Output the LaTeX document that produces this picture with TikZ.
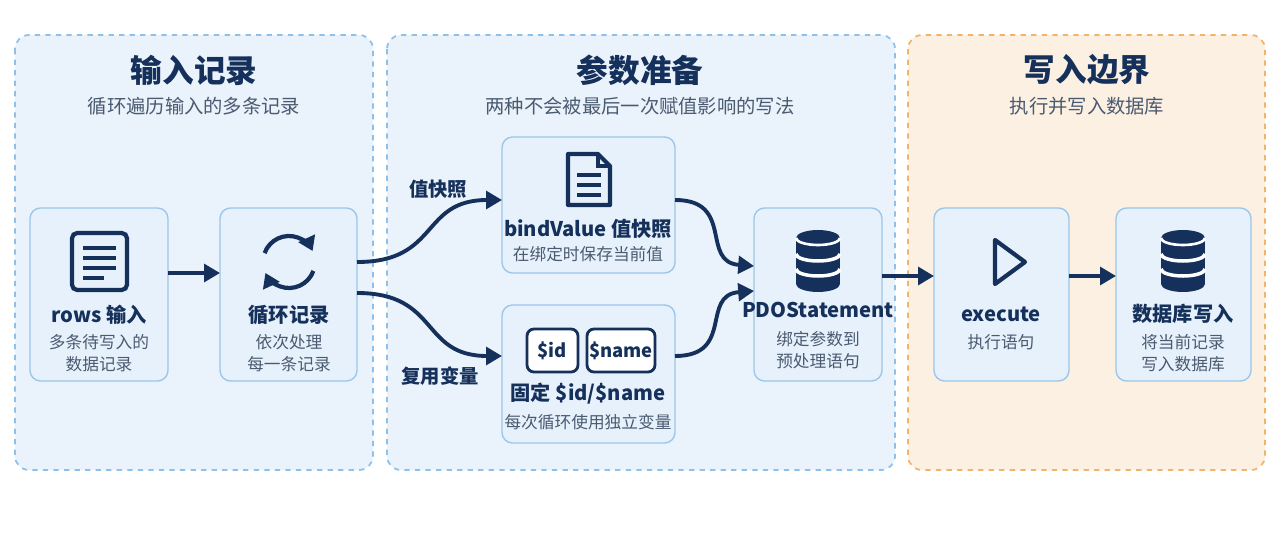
\documentclass[tikz,border=0pt]{standalone}
\usepackage{fontspec}
\setmainfont{Noto Sans CJK SC}
\usetikzlibrary{arrows.meta}
\definecolor{navy}{HTML}{15305A}
\definecolor{pfill}{HTML}{EAF3FC}
\definecolor{pline}{HTML}{8EC0EA}
\definecolor{ofill}{HTML}{FCF0E2}
\definecolor{oline}{HTML}{F2B46A}
\definecolor{bfill}{HTML}{E6F1FB}
\definecolor{bline}{HTML}{9CC6EA}
\definecolor{sub}{HTML}{4A5A70}
\begin{document}
\begin{tikzpicture}[x=0.02cm,y=-0.02cm,
 panel/.style={draw=pline,fill=pfill,dashed,line width=1pt,rounded corners=8pt},
 opanel/.style={draw=oline,fill=ofill,dashed,line width=1pt,rounded corners=8pt},
 box/.style={draw=bline,fill=bfill,line width=0.8pt,rounded corners=6pt},
 title/.style={font=\bfseries\fontsize{18}{22}\selectfont,text=navy},
 subt/.style={font=\fontsize{11}{14}\selectfont,text=sub},
 lbl/.style={font=\bfseries\fontsize{11.5}{14}\selectfont,text=navy},
 sm/.style={font=\fontsize{9.5}{12.5}\selectfont,text=sub,align=center},
 arr/.style={draw=navy,line width=2.2pt,-{Triangle[length=9pt,width=10pt]}},
 ico/.style={draw=navy,line width=2.4pt}]
\useasboundingbox (0,0) rectangle (1280,533);
\fill[white] (0,0) rectangle (1280,533);
\draw[panel] (15,35) rectangle (373,470);
\draw[panel] (387,35) rectangle (895,470);
\draw[opanel] (908,35) rectangle (1265,470);
\node[title] (t1) at (194,70) {输入记录};
\node[subt] (s1) at (194,106) {循环遍历输入的多条记录};
\node[title] (t2) at (640,70) {参数准备};
\node[subt] (s2) at (640,106) {两种不会被最后一次赋值影响的写法};
\node[title] (t3) at (1087,70) {写入边界};
\node[subt] (s3) at (1087,106) {执行并写入数据库};
% boxes
\draw[box] (30,208) rectangle (168,381);
\draw[box] (220,208) rectangle (357,381);
\draw[box] (502,137) rectangle (675,273);
\draw[box] (502,305) rectangle (675,443);
\draw[box] (754,208) rectangle (882,381);
\draw[box] (934,208) rectangle (1069,381);
\draw[box] (1116,208) rectangle (1251,381);
\coordinate (rowsR) at (168,273); \coordinate (loopL) at (220,273);
\coordinate (loopR1) at (357,262); \coordinate (loopR2) at (357,293);
\coordinate (bvL) at (502,200); \coordinate (bvR) at (675,200);
\coordinate (fxL) at (502,356); \coordinate (fxR) at (675,356);
\coordinate (pdoL1) at (754,266); \coordinate (pdoL2) at (754,291);
\coordinate (pdoR) at (882,276); \coordinate (exL) at (934,276);
\coordinate (exR) at (1069,276); \coordinate (dbL) at (1116,276);
% icons
\draw[ico,rounded corners=3pt] (72,233) rectangle (127,290);
\foreach \y in {248,258,268} \draw[ico] (83,\y)--(116,\y);
\draw[ico] (83,278)--(104,278);
\draw[ico,-{Triangle[length=8pt,width=10pt]}] (289-24.4,262-8.9) arc (-160:-25:26);
\draw[ico,-{Triangle[length=8pt,width=10pt]}] (289+24.4,262+8.9) arc (20:155:26);
\draw[ico,line join=round] (568,154)--(598,154)--(610,166)--(610,205)--(568,205)--cycle;
\draw[ico] (598,154)--(598,166)--(610,166);
\foreach \y in {175,185,195} \draw[ico] (577,\y)--(601,\y);
\foreach \cx/\cy in {818/262,1183/262}{
 \fill[navy] (\cx-22,\cy-24) rectangle (\cx+22,\cy+22);
 \fill[navy] (\cx,\cy-24) ellipse (22 and 8);
 \fill[navy] (\cx,\cy+22) ellipse (22 and 8);
 \draw[white,line width=2pt] (\cx-22,\cy-8) arc (180:0:22 and 7);
 \draw[white,line width=2pt] (\cx-22,\cy+7) arc (180:0:22 and 7);
 \draw[white,line width=1.5pt] (\cx-22,\cy-24) arc (180:0:22 and 7);}
\draw[ico,line join=round] (995,240)--(1025,262)--(995,284)--cycle;
\draw[navy,line width=1.6pt,rounded corners=4pt,fill=white] (527,329) rectangle (578,372);
\draw[navy,line width=1.6pt,rounded corners=4pt,fill=white] (587,329) rectangle (655,372);
\node[lbl,font=\bfseries\fontsize{10.5}{13}\selectfont] (idn) at (552,351) {\$id};
\node[lbl,font=\bfseries\fontsize{10.5}{13}\selectfont] (namen) at (621,351) {\$name};
% labels
\node[lbl] (l1) at (99,315) {rows 输入};
\node[sm] (d1) at (99,353) {多条待写入的\\数据记录};
\node[lbl] (l2) at (289,315) {循环记录};
\node[sm] (d2) at (289,353) {依次处理\\每一条记录};
\node[lbl] (l3) at (588,229) {bindValue 值快照};
\node[sm] (d3) at (588,254) {在绑定时保存当前值};
\node[lbl] (l4) at (588,394) {固定 \$id/\$name};
\node[sm] (d4) at (588,422) {每次循环使用独立变量};
\node[lbl] (l5) at (818,310) {PDOStatement};
\node[sm] (d5) at (818,350) {绑定参数到\\预处理语句};
\node[lbl] (l6) at (1001,314) {execute};
\node[sm] (d6) at (1001,342) {执行语句};
\node[lbl] (l7) at (1183,314) {数据库写入};
\node[sm] (d7) at (1183,353) {将当前记录\\写入数据库};
\node[lbl,font=\bfseries\fontsize{11}{14}\selectfont] (e1) at (438,189) {值快照};
\node[lbl,font=\bfseries\fontsize{11}{14}\selectfont] (e2) at (440,376) {复用变量};
% arrows
\draw[arr] (rowsR)--(loopL);
\draw[arr] (loopR1) .. controls (440,262) and (420,200) .. (bvL);
\draw[arr] (loopR2) .. controls (440,293) and (420,356) .. (fxL);
\draw[arr] (bvR) .. controls (735,200) and (700,262) .. (pdoL1);
\draw[arr] (fxR) .. controls (735,356) and (700,295) .. (pdoL2);
\draw[arr] (pdoR)--(exL);
\draw[arr] (exR)--(dbL);
\end{tikzpicture}
\end{document}
